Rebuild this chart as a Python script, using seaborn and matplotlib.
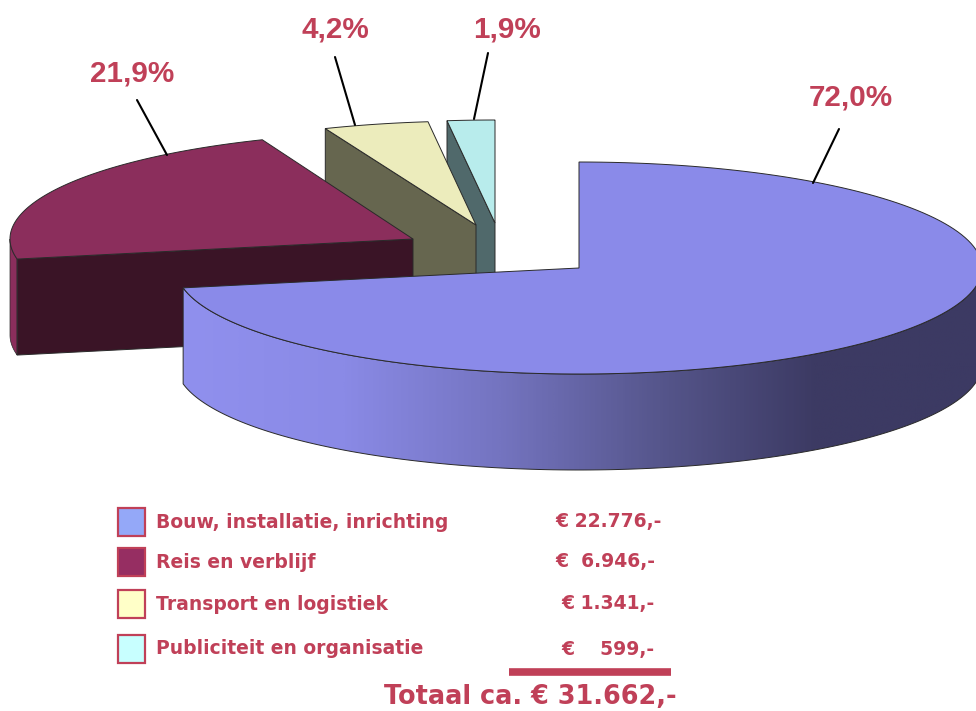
import numpy as np
import matplotlib
matplotlib.use("Agg")
import matplotlib.pyplot as plt
from matplotlib.patches import Polygon, Rectangle
import seaborn as sns

# data
categories = ["Bouw, installatie, inrichting", "Reis en verblijf",
              "Transport en logistiek", "Publiciteit en organisatie"]
shares = [72.0, 21.9, 4.2, 1.9]
amounts = ["€ 22.776,-", "€  6.946,-", "€ 1.341,-", "€    599,-"]
total = "Totaal ca. € 31.662,-"

# styles
top_colors = ["#8a8ae9", "#8b2e5c", "#ececbc", "#b8ecec"]
wall_colors = ["#8a8ae9", "#3a1426", "#66664f", "#50696b"]
legend_colors = ["#94a8f8", "#962e62", "#ffffc8", "#c8ffff"]
side_shades = ["#9090ee", "#8a8ae6", "#7474c0", "#56568c", "#3c3a63", "#3c3a63"]
red = "#c04058"
edge = "#2a2a2a"

# layout, in pixels of the picture
apex = [(579, 268), (413, 239), (476, 225), (495, 223)]
rx = 403
ry = [106, 107, 104, 103]
depth = 96
label_pos = [(851, 98), (132, 73), (335, 29), (507, 29)]
lead_from = [(813, 183), (167, 155), (355, 125), (474, 119)]
lead_to = [(839, 129), (137, 100), (335, 57), (488, 53)]
legend_y = [522, 562, 604, 649]
amount_x = [555, 555, 561, 561]

sns.set_theme(style="white")
fig = plt.figure(figsize=(9.76, 7.11), dpi=100)
ax = fig.add_axes([0, 0, 1, 1])
ax.set_xlim(0, 976)
ax.set_ylim(711, 0)
ax.axis("off")


def arc(i, a0, a1, dy=0):
    t = np.radians(np.linspace(a0, a1, 160))
    return np.column_stack([apex[i][0] + rx * np.cos(t), apex[i][1] + dy - ry[i] * np.sin(t)])


# slice angles, clockwise from 12 o'clock
ends = 90 - np.cumsum(shares) * 3.6
starts = np.r_[90, ends[:-1]]

# back slices first, main slice last so it covers them
for i in [3, 2, 1]:
    c = apex[i]
    # the cut face that looks to the viewer
    rim = arc(i, starts[i], starts[i])[0]
    wall = [c, rim, rim + [0, depth], (c[0], c[1] + depth)]
    ax.add_patch(Polygon(wall, fc=wall_colors[i], ec=edge, lw=0.7, zorder=6 - i))
    if i == 1:
        # bit of the curved side left of the cut face
        side = np.vstack([arc(i, -180, starts[i]), arc(i, starts[i], -180, depth)])
        ax.add_patch(Polygon(side, fc=top_colors[i], ec=edge, lw=0.5, zorder=4))
    top = np.vstack([[c], arc(i, starts[i], ends[i])])
    ax.add_patch(Polygon(top, fc=top_colors[i], ec=edge, lw=0.7, zorder=7 - i))

# main slice: curved side with a horizontal shade, then the top
visible = np.vstack([arc(0, ends[0], 0), arc(0, 0, ends[0], depth)])
clip = Polygon(visible, fc="none", ec=edge, lw=0.7, zorder=8)
ax.add_patch(clip)
shade = sns.blend_palette(side_shades, as_cmap=True)
img = ax.imshow(np.linspace(0, 1, 400)[None, :], cmap=shade, aspect="auto",
                extent=[183, 976, 480, 250], zorder=7)
img.set_clip_path(clip)
ax.set_xlim(0, 976)
ax.set_ylim(711, 0)
top = np.vstack([[apex[0]], arc(0, starts[0], ends[0])])
ax.add_patch(Polygon(top, fc=top_colors[0], ec=edge, lw=0.7, zorder=9))

# leader lines and percentages
for i, s in enumerate(shares):
    ax.plot(*zip(lead_from[i], lead_to[i]), color="black", lw=1.5, zorder=10)
    ax.text(*label_pos[i], f"{s:.1f}%".replace(".", ","), color=red, ha="center", va="center",
            family="Liberation Sans", weight="bold", fontsize=21.3)

# legend table
for i, name in enumerate(categories):
    y = legend_y[i]
    ax.add_patch(Rectangle((118, y - 14), 27, 28, fc=legend_colors[i], ec=red, lw=1.6))
    ax.text(156, y, name, color=red, va="center", family="DejaVu Sans", weight="bold", fontsize=13.5)
    ax.text(amount_x[i], y, amounts[i], color=red, va="center", family="DejaVu Sans",
            weight="bold", fontsize=13.5)

ax.plot([509, 671], [672, 672], color=red, lw=5.5, solid_capstyle="butt")
ax.text(384, 697, total, color=red, va="center", family="DejaVu Sans", weight="bold", fontsize=18.4)

fig.savefig("out.png", dpi=100)
